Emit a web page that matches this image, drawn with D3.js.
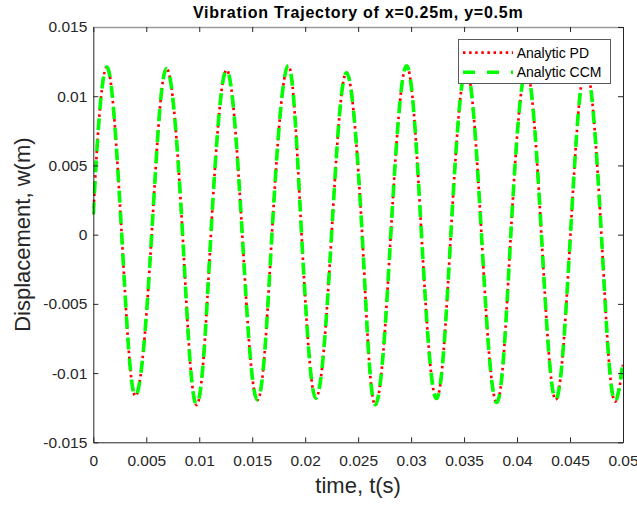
<!DOCTYPE html>
<html>
<head>
<meta charset="utf-8">
<script src="https://cdn.jsdelivr.net/npm/d3@7/dist/d3.min.js"></script>
<style>
  html, body { margin: 0; padding: 0; background: #fff; }
  svg text { font-family: "Liberation Sans", Arial, Helvetica, sans-serif; }
</style>
</head>
<body>
<svg id="chart" width="637" height="506"></svg>
<script>
const title = "Vibration Trajectory of x=0.25m, y=0.5m";
const xLabel = "time, t(s)";
const yLabel = "Displacement, w(m)";
const seriesNames = ["Analytic PD", "Analytic CCM"];

const xTicks = [0, 0.005, 0.01, 0.015, 0.02, 0.025, 0.03, 0.035, 0.04, 0.045, 0.05];
const xTickLabels = ["0", "0.005", "0.01", "0.015", "0.02", "0.025", "0.03", "0.035", "0.04", "0.045", "0.05"];
const yTicks = [-0.015, -0.01, -0.005, 0, 0.005, 0.01, 0.015];
const yTickLabels = ["-0.015", "-0.01", "-0.005", "0", "0.005", "0.01", "0.015"];

const time = [0, 0.00056, 0.00126, 0.00197, 0.00268, 0.00333, 0.00398, 0.00475, 0.00551, 0.00622,
  0.00692, 0.00768, 0.00843, 0.00909, 0.00975, 0.01043, 0.0111, 0.01184, 0.01258, 0.01332,
  0.01406, 0.01478, 0.01549, 0.01618, 0.01686, 0.01763, 0.0184, 0.01903, 0.01966, 0.02034,
  0.02101, 0.02175, 0.02249, 0.0232, 0.0239, 0.02464, 0.02538, 0.026, 0.02662, 0.02735,
  0.02808, 0.02883, 0.02957, 0.03028, 0.03098, 0.03169, 0.03239, 0.03307, 0.03375, 0.03448,
  0.0352, 0.03592, 0.03664, 0.03736, 0.03808, 0.03875, 0.03941, 0.04014, 0.04087, 0.04159,
  0.0423, 0.04298, 0.04365, 0.04434, 0.04504, 0.04576, 0.04648, 0.04722, 0.04796, 0.04861,
  0.04926, 0.05];

const pdValues = [0.00147, 0.0085, 0.0121, 0.0085, 0, -0.0082, -0.01166, -0.0082, 0, 0.0085,
  0.0120, 0.0085, 0, -0.0087, -0.01231, -0.0087, 0, 0.0084, 0.0119, 0.0084,
  0, -0.0085, -0.01195, -0.0085, 0, 0.0086, 0.0122, 0.0086, 0, -0.0084,
  -0.01181, -0.0084, 0, 0.0083, 0.0117, 0.0083, 0, -0.0087, -0.01231, -0.0087,
  0, 0.0086, 0.0122, 0.0086, 0, -0.0084, -0.01184, -0.0084, 0, 0.0085,
  0.0120, 0.0085, 0, -0.0086, -0.01213, -0.0086, 0, 0.0084, 0.0119, 0.0084,
  0, -0.0084, -0.01192, -0.0084, 0, 0.0086, 0.0121, 0.0086, 0, -0.0085,
  -0.01206, -0.0094];

const ccmValues = [0.00147, 0.0085, 0.0121, 0.0085, 0, -0.0082, -0.01166, -0.0082, 0, 0.0085,
  0.0120, 0.0085, 0, -0.0087, -0.01228, -0.0087, 0, 0.0084, 0.0119, 0.0084,
  0, -0.0085, -0.01192, -0.0085, 0, 0.0086, 0.0122, 0.0086, 0, -0.0084,
  -0.01181, -0.0084, 0, 0.0083, 0.0117, 0.0083, 0, -0.0087, -0.01228, -0.0087,
  0, 0.0086, 0.0122, 0.0086, 0, -0.0084, -0.01184, -0.0084, 0, 0.0085,
  0.0120, 0.0085, 0, -0.0086, -0.01213, -0.0086, 0, 0.0084, 0.0119, 0.0084,
  0, -0.0084, -0.01192, -0.0084, 0, 0.0086, 0.0121, 0.0086, 0, -0.0085,
  -0.01206, -0.0092];

const svg = d3.select("#chart");
const L = 93.3, R = 623, T = 27, B = 442.3;
const x = d3.scaleLinear().domain([0, 0.05]).range([L, R]);
const y = d3.scaleLinear().domain([-0.015, 0.015]).range([B, T]);
const axisColor = "#262626";

// clip
svg.append("defs").append("clipPath").attr("id", "clip")
  .append("rect").attr("x", L - 1).attr("y", T - 2).attr("width", R - L + 2).attr("height", B - T + 4);

const line = d3.line().x(d => x(d[0])).y(d => y(d[1])).curve(d3.curveNatural);
const pdData = time.map((t, i) => [t, pdValues[i]]);
const ccmData = time.map((t, i) => [t, ccmValues[i]]);

const plot = svg.append("g").attr("clip-path", "url(#clip)");
plot.append("path").datum(pdData).attr("d", line)
  .attr("fill", "none").attr("stroke", "#ff0000").attr("stroke-width", 2.7)
  .attr("stroke-dasharray", "2.5,3.6");
plot.append("path").datum(ccmData).attr("d", line)
  .attr("fill", "none").attr("stroke", "#00ff00").attr("stroke-width", 3.6)
  .attr("stroke-dasharray", "12,9");

// axes
function styleAxis(g) {
  g.select(".domain").attr("stroke", axisColor);
  g.selectAll(".tick line").attr("stroke", axisColor);
  g.selectAll(".tick text").attr("fill", axisColor).attr("font-size", "15.5px")
    .attr("font-family", "'Liberation Sans', Arial, Helvetica, sans-serif");
}
const fmtX = (d, i) => xTickLabels[i];
const fmtY = (d, i) => yTickLabels[i];

svg.append("g").attr("transform", `translate(0,${B})`)
  .call(d3.axisBottom(x).tickValues(xTicks).tickFormat(fmtX).tickSizeInner(-5).tickSizeOuter(0).tickPadding(12.5))
  .call(styleAxis);
svg.append("g").attr("transform", `translate(${L},0)`)
  .call(d3.axisLeft(y).tickValues(yTicks).tickFormat(fmtY).tickSizeInner(-5).tickSizeOuter(0).tickPadding(6))
  .call(styleAxis);
svg.append("g").attr("transform", `translate(0,${T})`)
  .call(d3.axisTop(x).tickValues(xTicks).tickFormat("").tickSizeInner(-5).tickSizeOuter(0))
  .call(styleAxis)
  .call(g => g.select(".domain").attr("stroke", "#9a9a9a").attr("stroke-width", 1.6));
svg.append("g").attr("transform", `translate(${R},0)`)
  .call(d3.axisRight(y).tickValues(yTicks).tickFormat("").tickSizeInner(-5).tickSizeOuter(0))
  .call(styleAxis);

// title
svg.append("text").attr("x", (L + R) / 2).attr("y", 18.3).attr("text-anchor", "middle")
  .attr("font-size", "16px").attr("font-weight", "bold").attr("letter-spacing", "0.75px")
  .attr("fill", "#000").text(title);

// axis labels
svg.append("text").attr("x", (L + R) / 2).attr("y", 493).attr("text-anchor", "middle")
  .attr("font-size", "22px").attr("fill", axisColor).text(xLabel);
svg.append("text").attr("transform", `translate(30,${(T + B) / 2}) rotate(-90)`)
  .attr("text-anchor", "middle").attr("font-size", "22px").attr("fill", axisColor).text(yLabel);

// legend
const lg = svg.append("g");
lg.append("rect").attr("x", 458.5).attr("y", 39.5).attr("width", 152).attr("height", 44)
  .attr("fill", "#fff").attr("stroke", "#5a5a5a").attr("stroke-width", 1);
const legendItems = [
  { name: seriesNames[0], color: "#ff0000", width: 2.7, dash: "2.5,3.6", cy: 52.7 },
  { name: seriesNames[1], color: "#00ff00", width: 3.6, dash: "12,12", cy: 72.3 }
];
legendItems.forEach(it => {
  lg.append("line").attr("x1", 463).attr("x2", 513).attr("y1", it.cy).attr("y2", it.cy)
    .attr("stroke", it.color).attr("stroke-width", it.width).attr("stroke-dasharray", it.dash);
  lg.append("text").attr("x", 516.7).attr("y", it.cy + 5).attr("font-size", "14px")
    .attr("fill", "#000").text(it.name);
});
</script>
</body>
</html>
